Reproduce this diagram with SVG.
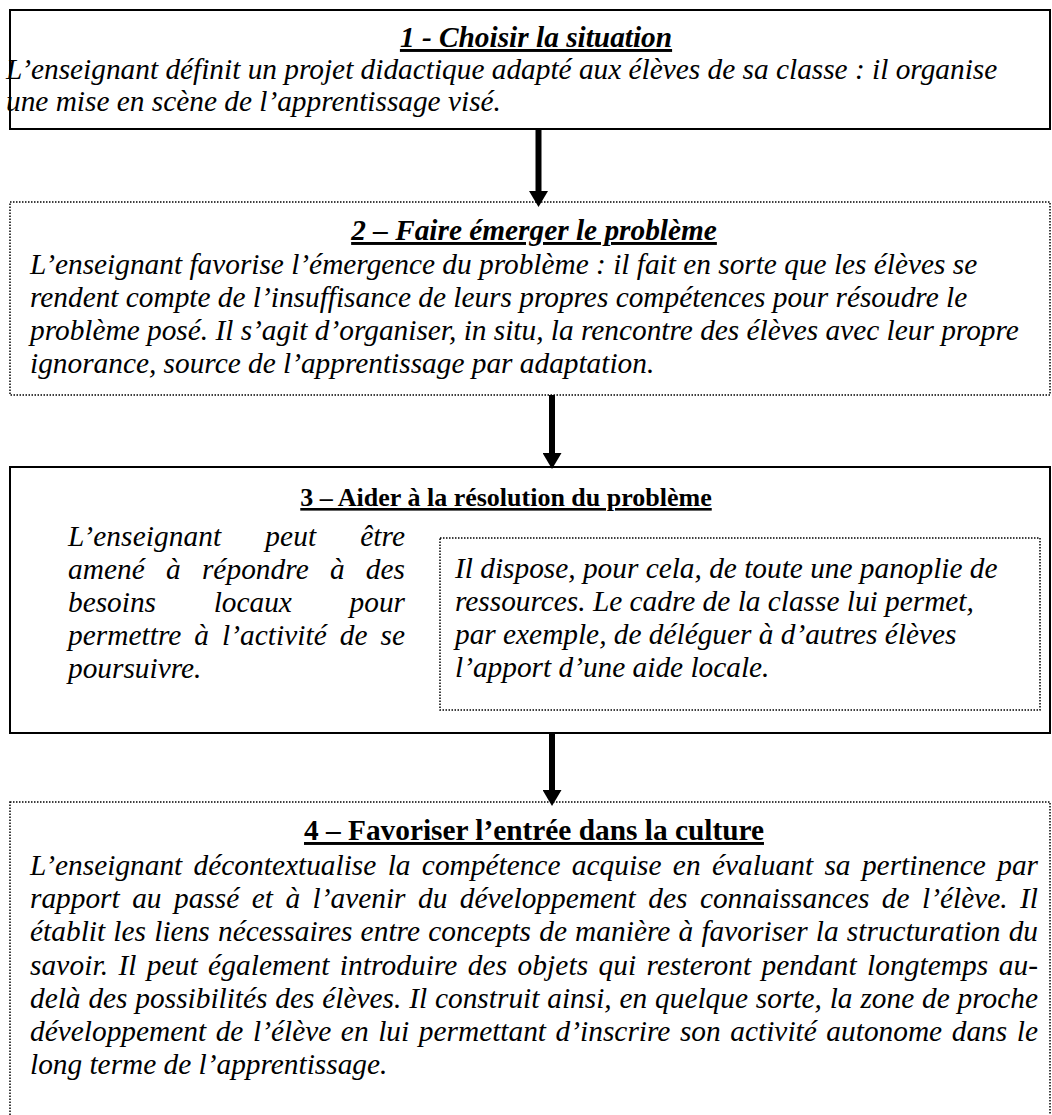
<svg xmlns="http://www.w3.org/2000/svg" width="1052" height="1115" viewBox="0 0 1052 1115">
<defs>
<style>
.solid{fill:none;stroke:#000;stroke-width:2}
.dotted{fill:none;stroke:#000;stroke-width:1.5;stroke-dasharray:1.5 1.5}
.t{font-family:"Liberation Serif","Times New Roman",serif;font-size:29.33px;fill:#000}
.i{font-style:italic}
.hbi{font-weight:bold;font-style:italic;text-decoration:underline;text-anchor:middle}
.hb{font-weight:bold;text-decoration:underline;text-anchor:middle}
.arrow{stroke:#000;stroke-width:6;fill:none}
</style>
<marker id="ah" viewBox="0 0 16 19" refX="0" refY="9.5" markerWidth="16" markerHeight="19" markerUnits="userSpaceOnUse" orient="auto">
<path d="M0,0 L16,9.5 L0,19 z" fill="#000"/>
</marker>
</defs>
<rect x="0" y="0" width="1052" height="1115" fill="#fff"/>

<g id="node1">
<rect class="solid" x="10" y="10" width="1040" height="119"/>
<text class="t hbi" x="536" y="47">1 - Choisir la situation</text>
<text class="t i" x="6" y="79">L’enseignant définit un projet didactique adapté aux élèves de sa classe : il organise</text>
<text class="t i" x="6" y="111">une mise en scène de l’apprentissage visé.</text>
</g>

<g id="node2">
<rect class="dotted" x="10" y="202" width="1040" height="193"/>
<text class="t hbi" x="534" y="240">2 – Faire émerger le problème</text>
<text class="t i" x="30" y="274">L’enseignant favorise l’émergence du problème : il fait en sorte que les élèves se</text>
<text class="t i" x="30" y="307">rendent compte de l’insuffisance de leurs propres compétences pour résoudre le</text>
<text class="t i" x="30" y="340">problème posé. Il s’agit d’organiser, in situ, la rencontre des élèves avec leur propre</text>
<text class="t i" x="30" y="373">ignorance, source de l’apprentissage par adaptation.</text>
</g>

<g id="node3">
<rect class="solid" x="10" y="467" width="1040" height="266"/>
<text class="t hb" x="506" y="506" style="font-size:26px">3 – Aider à la résolution du problème</text>
<text class="t i" x="68" y="546" word-spacing="36.5" textLength="337">L’enseignant peut être</text>
<text class="t i" x="68" y="579" word-spacing="13.8" textLength="337">amené à répondre à des</text>
<text class="t i" x="68" y="612" word-spacing="50.4" textLength="337">besoins locaux pour</text>
<text class="t i" x="68" y="645" word-spacing="5.65" textLength="337">permettre à l’activité de se</text>
<text class="t i" x="68" y="678">poursuivre.</text>
</g>

<g id="node3b">
<rect class="dotted" x="440" y="538" width="600" height="172"/>
<text class="t i" x="455" y="578">Il dispose, pour cela, de toute une panoplie de</text>
<text class="t i" x="455" y="611">ressources. Le cadre de la classe lui permet,</text>
<text class="t i" x="455" y="644">par exemple, de déléguer à d’autres élèves</text>
<text class="t i" x="455" y="677">l’apport d’une aide locale.</text>
</g>

<g id="node4">
<rect class="dotted" x="10" y="802" width="1040" height="330"/>
<text class="t hb" x="534" y="840">4 – Favoriser l’entrée dans la culture</text>
<text class="t i" x="30" y="875" word-spacing="4.02" textLength="1008">L’enseignant décontextualise la compétence acquise en évaluant sa pertinence par</text>
<text class="t i" x="30" y="908.2" word-spacing="5.19" textLength="1008">rapport au passé et à l’avenir du développement des connaissances de l’élève. Il</text>
<text class="t i" x="30" y="941.4" word-spacing="0.77" textLength="1008">établit les liens nécessaires entre concepts de manière à favoriser la structuration du</text>
<text class="t i" x="30" y="974.6" word-spacing="2.91" textLength="1008">savoir. Il peut également introduire des objets qui resteront pendant longtemps au-</text>
<text class="t i" x="30" y="1007.8" word-spacing="0.49" textLength="1008">delà des possibilités des élèves. Il construit ainsi, en quelque sorte, la zone de proche</text>
<text class="t i" x="30" y="1041" word-spacing="2.25" textLength="1008">développement de l’élève en lui permettant d’inscrire son activité autonome dans le</text>
<text class="t i" x="30" y="1074.2">long terme de l’apprentissage.</text>
</g>

<g id="connectors">
<line class="arrow" x1="538.5" y1="130" x2="538.5" y2="191" marker-end="url(#ah)"/>
<line class="arrow" x1="552" y1="395" x2="552" y2="453" marker-end="url(#ah)"/>
<line class="arrow" x1="552" y1="734" x2="552" y2="790" marker-end="url(#ah)"/>
</g>
</svg>
